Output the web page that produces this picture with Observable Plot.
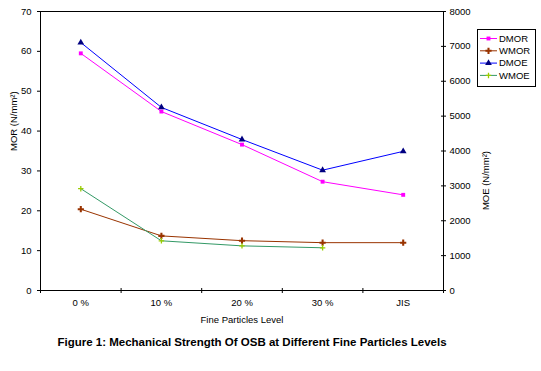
<!DOCTYPE html>
<html><head><meta charset="utf-8">
<script src="https://cdn.jsdelivr.net/npm/d3@7"></script>
<script src="https://cdn.jsdelivr.net/npm/@observablehq/plot@0.6"></script>
<style>body{margin:0;background:#fff} svg{display:block}</style>
</head><body><div id="chart"></div>
<script>
const categories = ["0 %", "10 %", "20 %", "30 %", "JIS"];
const dmor = [59.5, 44.9, 36.6, 27.3, 24.0];
const wmor = [20.4, 13.7, 12.5, 12.0, 12.0];
const dmoe = [7110, 5250, 4330, 3450, 3990];
const wmoe = [2920, 1425, 1280, 1225, null];
const morTicks = [0, 10, 20, 30, 40, 50, 60, 70];
const moeTicks = [0, 1000, 2000, 3000, 4000, 5000, 6000, 7000, 8000];
const title = "Figure 1: Mechanical Strength Of OSB at Different Fine Particles Levels";
const xLabel = "Fine Particles Level";
const yLabelLeft = "MOR (N/mm²)";
const yLabelRight = "MOE (N/mm²)";

const K = 70 / 8000; // MOE -> MOR axis
const series = [
  {name: "DMOR", values: dmor, k: 1, line: "#FF00FF", mark: "#FF00FF", symbol: "square", r: 2.2, filled: true},
  {name: "WMOR", values: wmor, k: 1, line: "#993300", mark: "#993300", symbol: "cross", r: 2.6, filled: true},
  {name: "DMOE", values: dmoe, k: K, line: "#0000FF", mark: "#000080", symbol: "triangle", r: 2.5, filled: true},
  {name: "WMOE", values: wmoe, k: K, line: "#339966", mark: "#99CC00", symbol: "plus", r: 1.9, filled: false}
];

const font = "Liberation Sans, Arial, sans-serif";
const marks = [
  Plot.frame({stroke: "black"}),
  Plot.axisY(morTicks, {anchor: "left", tickSize: 3, tickPadding: 6, label: null, fontSize: 9.5}),
  Plot.axisY(moeTicks.map(v => v * K), {anchor: "right", tickSize: 5, dx: -3, tickFormat: () => "", label: null}),
  Plot.axisY(moeTicks.map(v => v * K), {anchor: "right", tickSize: 0, tickPadding: 6, tickFormat: d => String(Math.round(d / K)), label: null, fontSize: 9.5}),
  Plot.axisX(d3.range(categories.length + 1).map(i => i - 0.5), {tickSize: 5, dy: -2, tickFormat: () => "", label: null}),
  Plot.axisX(d3.range(categories.length), {tickSize: 0, tickPadding: 9, tickFormat: i => categories[i], label: null, fontSize: 9.5})
];
for (const s of series) {
  const rows = s.values.map((v, i) => ({i, y: v == null ? null : v * s.k})).filter(d => d.y != null);
  marks.push(Plot.line(rows, {x: "i", y: "y", stroke: s.line, strokeWidth: 1}));
  marks.push(Plot.dot(rows, {x: "i", y: "y", symbol: () => s.symbol, r: s.r,
    fill: s.filled ? s.mark : "none", stroke: s.filled ? "none" : s.mark, strokeWidth: 1.3}));
}
marks.push(
  Plot.text([xLabel], {text: d => d, frameAnchor: "bottom", dy: 32, fontSize: 9.5}),
  Plot.text([yLabelLeft], {text: d => d, frameAnchor: "left", dx: -27, rotate: -90, fontSize: 9.5}),
  Plot.text([yLabelRight], {text: d => d, frameAnchor: "right", dx: 42, rotate: -90, fontSize: 9.5}),
  Plot.text([title], {text: d => d, frameAnchor: "bottom", dy: 55, dx: 10, fontSize: 11.5, fontWeight: "bold"})
);

const chart = Plot.plot({
  width: 541, height: 371,
  marginLeft: 40, marginRight: 98, marginTop: 11, marginBottom: 81,
  style: {fontFamily: font, fontSize: "9.5px", color: "black", background: "white"},
  x: {type: "linear", domain: [-0.5, categories.length - 0.5]},
  y: {domain: [0, 70]},
  marks
});

// legend
const svg = d3.select(chart);
const lg = svg.append("g").attr("font-family", font).attr("font-size", 9.5).attr("text-anchor", "start");
lg.append("rect").attr("x", 477.5).attr("y", 29.5).attr("width", 58).attr("height", 57)
  .attr("fill", "white").attr("stroke", "black");
const symMap = {square: d3.symbolSquare, cross: d3.symbolCross, triangle: d3.symbolTriangle, plus: d3.symbolPlus};
series.forEach((s, j) => {
  const y = 38.5 + j * 12.3;
  lg.append("line").attr("x1", 480).attr("x2", 497).attr("y1", y).attr("y2", y).attr("stroke", s.line);
  lg.append("path").attr("transform", `translate(488.5,${y})`)
    .attr("d", d3.symbol(symMap[s.symbol], Math.PI * s.r * s.r)())
    .attr("fill", s.filled ? s.mark : "none").attr("stroke", s.filled ? "none" : s.mark).attr("stroke-width", 1.3);
  lg.append("text").attr("x", 499).attr("y", y).attr("dy", "0.35em").text(s.name);
});
document.getElementById("chart").appendChild(chart);
</script>
</body></html>
